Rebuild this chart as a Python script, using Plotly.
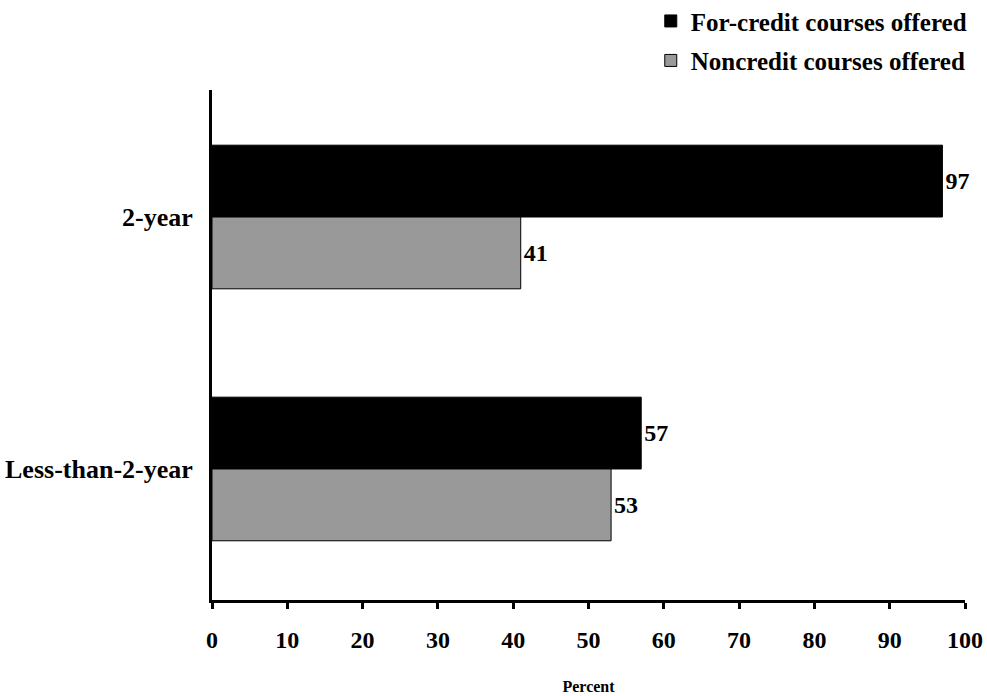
import plotly.graph_objects as go

categories = ["2-year", "Less-than-2-year"]
for_credit = [97, 57]
noncredit = [41, 53]
tick_vals = [0, 10, 20, 30, 40, 50, 60, 70, 80, 90, 100]

FONT = "Liberation Serif"

fig = go.Figure()
fig.add_trace(go.Bar(
    y=categories, x=for_credit, orientation="h", name="For-credit courses offered",
    marker=dict(color="#000000", line=dict(color="#000000", width=1)),
    text=[str(v) for v in for_credit], textposition="outside",
    textfont=dict(family=FONT, size=24, color="black"), cliponaxis=False,
    legendgroup="a",
))
fig.add_trace(go.Bar(
    y=categories, x=noncredit, orientation="h", name="Noncredit courses offered",
    marker=dict(color="#999999", line=dict(color="#000000", width=1)),
    text=[str(v) for v in noncredit], textposition="outside",
    textfont=dict(family=FONT, size=24, color="black"), cliponaxis=False,
    legendgroup="b",
))

fig.update_layout(
    width=987, height=696,
    margin=dict(l=212, r=22, t=90, b=96, autoexpand=False),
    paper_bgcolor="white", plot_bgcolor="white",
    barmode="group", bargap=0.43, bargroupgap=0,
    font=dict(family=FONT, size=24, color="black", weight="bold"),
    showlegend=True,
    legend=dict(
        x=1.009, xanchor="right", y=1.18, yanchor="top",
        font=dict(family=FONT, size=25, color="black", weight="bold"),
        traceorder="grouped", tracegroupgap=4, itemwidth=30,
        bgcolor="rgba(0,0,0,0)",
    ),
    xaxis=dict(
        range=[0, 100], tickvals=tick_vals, showgrid=False, zeroline=False,
        showline=True, linecolor="black", linewidth=3, automargin=False,
        ticks="outside", ticklen=6, tickwidth=3, tickcolor="black",
        ticklabelstandoff=10,
        tickfont=dict(family=FONT, size=24, weight="bold"),
        title=dict(text="Percent", font=dict(family=FONT, size=16, weight="bold"), standoff=30),
    ),
    yaxis=dict(
        range=[1.52, -0.504], showgrid=False, zeroline=False, automargin=False,
        showline=True, linecolor="black", linewidth=3, ticks="",
        ticklabelstandoff=11,
        tickfont=dict(family=FONT, size=26, weight="bold"),
    ),
)

fig.write_html(
    "out.html",
    config={"displayModeBar": False},
    post_script="document.body.style.margin='0';document.body.style.overflow='hidden';",
)
